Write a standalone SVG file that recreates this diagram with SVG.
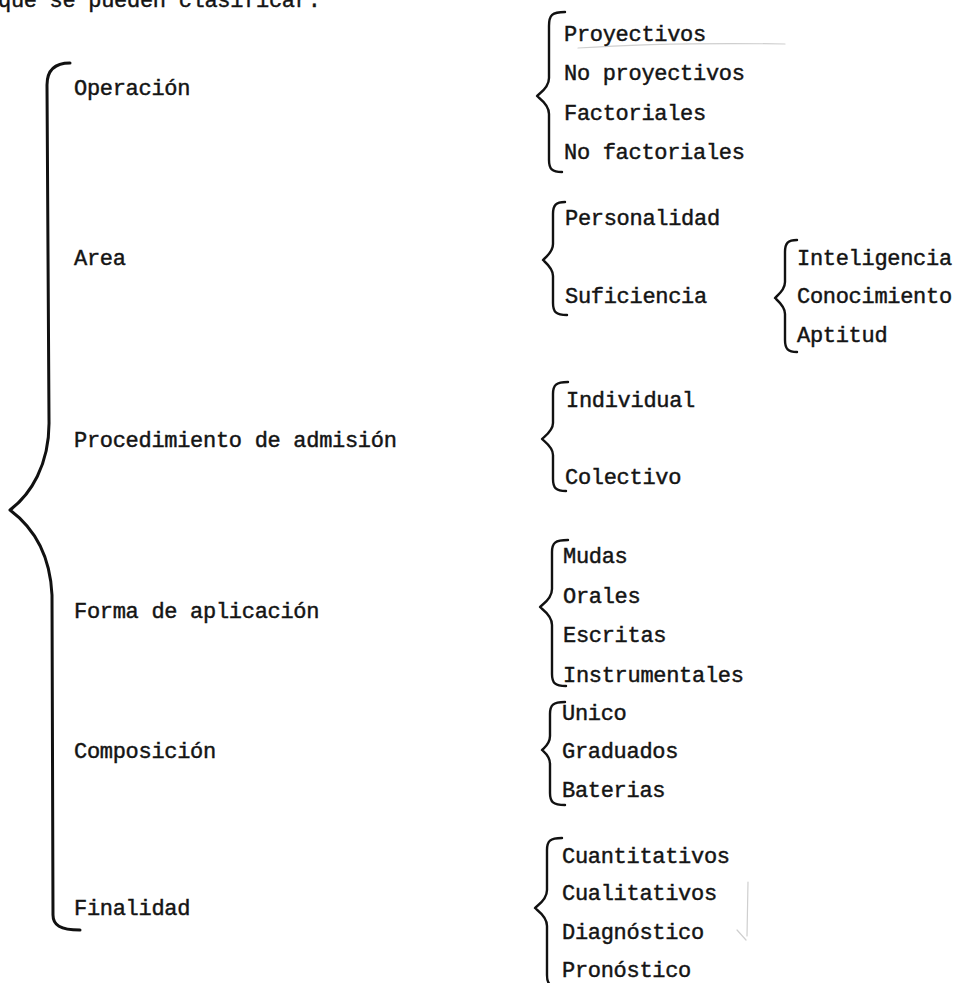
<svg xmlns="http://www.w3.org/2000/svg" width="954" height="983" viewBox="0 0 954 983">
<style>
text{font-family:"Liberation Mono","DejaVu Sans Mono",monospace;font-size:22px;letter-spacing:-0.3px;fill:#141414;stroke:#141414;stroke-width:0.45px}
.br{fill:none;stroke:#111;stroke-width:2.4;stroke-linecap:round;stroke-linejoin:round}
.main{stroke-width:3}
.faint{fill:none;stroke:#cfcfcf;stroke-width:1.2;stroke-linecap:round}
</style>
<rect width="954" height="983" fill="#ffffff"/>
<text x="-2" y="7">que se pueden clasificar.</text>
<g id="connectors">
<path class="br main" d="M70,63 C55,63 47,70 47,85 L49,420 C50,465 30,495 10,510 C30,525 50,550 52,595 L53,915 C53,925 60,930 80,930"/>
<path class="br" d="M565,12 C552,12 549,15 549,26 L549,78 C549,88 540,93 537,96 C540,99 549,104 549,114 L549,160 C549,169 552,172 562,172"/>
<path class="br" d="M565,202 C556,202 553,205 553,214 L553,244 C553,252 546,257 543,260 C546,263 553,268 553,276 L553,303 C553,312 556,315 567,315"/>
<path class="br" d="M797,240 C788,240 785,243 785,252 L785,282 C785,290 778,295 775,298 C778,301 785,306 785,314 L785,340 C785,349 788,352 797,352"/>
<path class="br" d="M568,382 C556,382 553,385 553,394 L553,423 C553,431 545,436 542,439 C545,442 553,447 553,455 L553,479 C553,488 556,491 566,491"/>
<path class="br" d="M568,540 C555,540 552,543 552,552 L552,589 C552,599 543,604 540,607 C543,610 552,615 552,625 L552,674 C552,683 555,686 566,686"/>
<path class="br" d="M565,702 C553,702 550,705 550,714 L550,736 C550,744 545,747 542,750 C545,753 550,756 550,764 L550,793 C550,802 553,805 565,805"/>
<path class="br" d="M562,838 C550,838 547,841 547,850 L547,890 C547,900 538,905 535,908 C538,911 547,916 547,926 L547,975 C547,984 550,987 560,987"/>
</g>
<g id="artifacts">
<path class="faint" d="M578,48 C640,44 720,43 785,44"/>
<path class="faint" d="M748,882 L747,936 M737,930 L746,940"/>
</g>
<g id="operacion"><text x="74" y="95">Operación</text></g>
<g id="area"><text x="74" y="265">Area</text></g>
<g id="procedimiento"><text x="74" y="447">Procedimiento de admisión</text></g>
<g id="forma"><text x="74" y="618">Forma de aplicación</text></g>
<g id="composicion"><text x="74" y="758">Composición</text></g>
<g id="finalidad"><text x="74" y="915">Finalidad</text></g>
<g id="op-items">
<text x="564" y="41">Proyectivos</text>
<text x="564" y="80">No proyectivos</text>
<text x="564" y="120">Factoriales</text>
<text x="564" y="159">No factoriales</text>
</g>
<g id="area-items">
<text x="565" y="225">Personalidad</text>
<text x="565" y="303">Suficiencia</text>
</g>
<g id="suficiencia-items">
<text x="797" y="265">Inteligencia</text>
<text x="797" y="303">Conocimiento</text>
<text x="797" y="342">Aptitud</text>
</g>
<g id="proc-items">
<text x="566" y="407">Individual</text>
<text x="565" y="484">Colectivo</text>
</g>
<g id="forma-items">
<text x="563" y="563">Mudas</text>
<text x="563" y="603">Orales</text>
<text x="563" y="642">Escritas</text>
<text x="563" y="682">Instrumentales</text>
</g>
<g id="comp-items">
<text x="562" y="720">Unico</text>
<text x="562" y="758">Graduados</text>
<text x="562" y="797">Baterias</text>
</g>
<g id="fin-items">
<text x="562" y="863">Cuantitativos</text>
<text x="562" y="900">Cualitativos</text>
<text x="562" y="939">Diagnóstico</text>
<text x="562" y="977">Pronóstico</text>
</g>
</svg>
